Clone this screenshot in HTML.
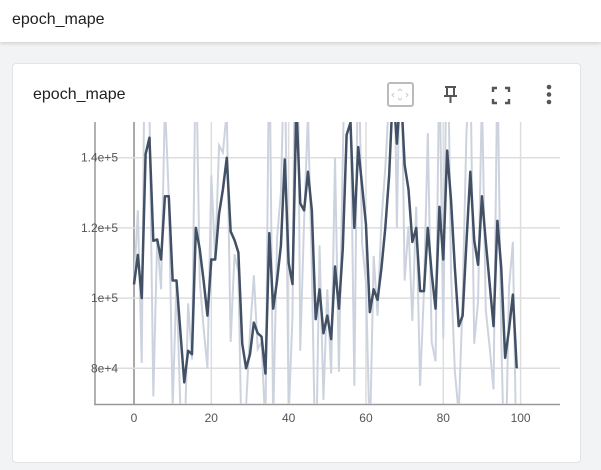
<!DOCTYPE html>
<html><head><meta charset="utf-8"><style>
body{margin:0;width:601px;height:470px;background:#f1f3f4;font-family:"Liberation Sans",sans-serif;overflow:hidden;position:relative}
.hdr{position:absolute;left:0;top:0;width:601px;height:42px;background:#fff;box-shadow:0 1px 4px rgba(0,0,0,.18)}
.hdr span{position:absolute;left:12px;top:11px;font-size:16px;color:#212121}
.card{position:absolute;left:12px;top:63px;width:567px;height:398px;background:#fff;border:1px solid #e3e3e3;border-radius:4px}
.ttl{position:absolute;left:33px;top:86px;font-size:16px;color:#212121}
svg{position:absolute;left:0;top:0}
</style></head><body>
<div class="hdr"><span>epoch_mape</span></div>
<div class="card"></div>
<div class="ttl">epoch_mape</div>
<svg width="601" height="470" id="chart">
<g><rect x="388" y="83" width="25" height="23" rx="2" fill="none" stroke="#bbb" stroke-width="2"/><path d="M398 91l2-2 2 2M398 98l2 2 2-2M394 93l-2 2 2 2M406 93l2 2-2 2" stroke="#ccc" fill="none"/></g>
<g stroke="#555" stroke-width="2" fill="none"><path d="M445 87h11M447 87v8M454 87v8M444 96h13M450.5 96v7"/></g>
<g stroke="#555" stroke-width="2.4" fill="none"><path d="M493 92v-4h4M505 88h4v4M509 99v4h-4M497 103h-4v-4"/></g>
<g fill="#555"><circle cx="549" cy="87" r="2.3"/><circle cx="549" cy="94.5" r="2.3"/><circle cx="549" cy="102" r="2.3"/></g>
<defs><clipPath id="cp"><rect x="95" y="122" width="465" height="282"/></clipPath></defs>
<g id="grid"></g><g id="lines" clip-path="url(#cp)"></g><g id="labels"></g>
</svg>
<script>
const smoothed=[10.39,11.23,10.0,14.1,14.57,11.63,11.67,11.1,12.9,12.9,10.5,10.5,9.04,7.6,8.5,8.4,12.0,11.4,10.5,9.5,11.1,11.1,12.4,13.1,14.0,11.9,11.65,11.3,8.7,8.0,8.4,9.3,9.0,8.9,7.85,11.85,9.7,10.5,11.5,13.95,11.0,10.4,15.5,12.7,12.5,13.6,12.5,9.4,10.25,9.0,9.5,8.83,10.9,9.7,11.4,14.65,15.0,12.0,14.3,13.2,12.1,9.6,10.25,9.95,10.85,12.0,13.5,16,14.4,16,13.8,13.1,11.6,12.0,10.2,10.2,12.0,10.7,9.7,12.6,11.1,14.2,12.8,10.85,9.2,9.5,11.6,13.6,11.65,10.95,12.9,11.6,10.4,9.2,12.2,10.85,8.3,9.1,10.1,8.0];
const raw=[10.39,12.5,8.15,20.25,15.3,7.2,11.7,10.25,15.6,12.9,6.9,10.5,6.85,5.44,9.85,8.25,17.4,10.5,9.15,8.0,13.5,11.1,14.35,14.15,15.35,8.75,11.25,10.75,4.8,6.95,9.0,10.65,8.55,8.75,6.25,17.8,6.45,11.7,13.0,17.6,6.6,9.5,23,8.5,12.2,15.25,10.85,4.75,11.5,7.1,10.25,7.85,14,7.9,13.95,19.5,15.5,7.5,17.75,11.55,10.45,5.85,11.2,9.5,12.2,13.7,15.75,19.75,12,18.4,10.5,12.05,9.35,12.6,7.5,10.2,14.7,8.75,8.2,16.95,8.85,18.85,10.7,7.9,6.7,9.95,14.75,16.6,8.7,9.9,15.85,9.65,8.6,7.4,16.7,8.8,4.45,10.3,11.6,4.85];
const xTicks=[0,20,40,60,80,100];
const yTicks=[8,10,12,14];
const yTickLabels=["8e+4","1e+5","1.2e+5","1.4e+5"];
const X=v=>134+3.866*v, Y=v=>368.3-(v-8)*35.1;
const NS="http://www.w3.org/2000/svg";
function mk(t,a,p){const e=document.createElementNS(NS,t);for(const k in a)e.setAttribute(k,a[k]);p.appendChild(e);return e;}
const grid=document.getElementById('grid'),lines=document.getElementById('lines'),labels=document.getElementById('labels');
xTicks.forEach(t=>{const l=mk('line',{x1:X(t),x2:X(t),y1:122,y2:404,stroke:t===0?'#aaa':'#ddd','stroke-width':t===0?2:1.5},grid);


const tx=mk('text',{x:X(t),y:422,'text-anchor':'middle','font-size':12,fill:'#555'},labels);tx.textContent=t;

});
yTicks.forEach((t,i)=>{const l=mk('line',{x1:95,x2:560,y1:Y(t),y2:Y(t),stroke:'#ddd','stroke-width':1.5},grid);


const tx=mk('text',{x:118,y:Y(t)+4,'text-anchor':'end','font-size':12,fill:'#555'},labels);tx.textContent=yTickLabels[i];

});
const ax=mk('line',{x1:95,x2:95,y1:122,y2:405,stroke:'#999','stroke-width':1.5},grid);


const bx=mk('line',{x1:94,x2:560,y1:404.5,y2:404.5,stroke:'#999','stroke-width':1.5},grid);


const r=mk('polyline',{points:raw.map((v,i)=>X(i)+','+Y(v)).join(' '),fill:'none',stroke:'#cdd3de','stroke-width':2},lines);


const s=mk('polyline',{points:smoothed.map((v,i)=>X(i)+','+Y(v)).join(' '),fill:'none',stroke:'#425066','stroke-width':2.5,'stroke-linejoin':'round'},lines);


</script>
</body></html>
